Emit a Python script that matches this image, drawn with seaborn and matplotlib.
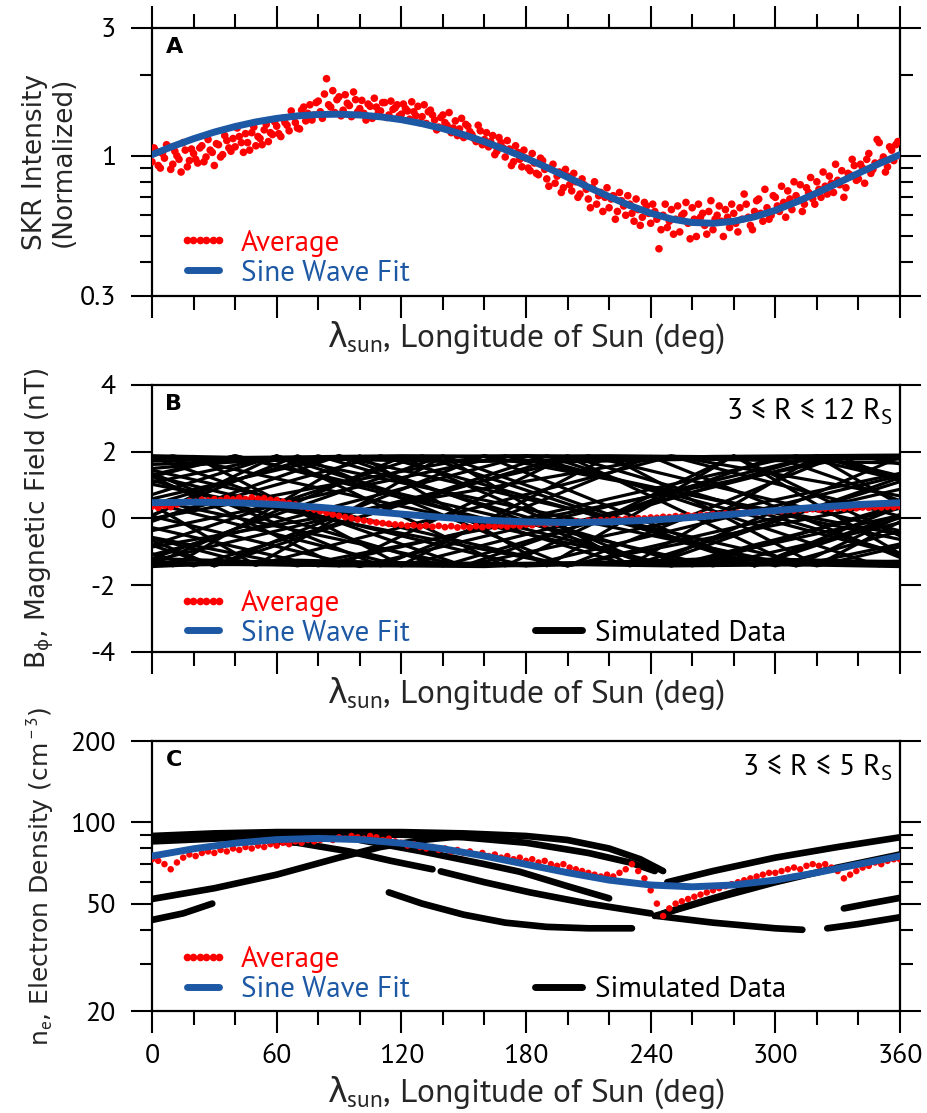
import numpy as np
import pandas as pd
import matplotlib
matplotlib.use("Agg")
import matplotlib.pyplot as plt
import seaborn as sns
from matplotlib import font_manager
from matplotlib.lines import Line2D
from matplotlib.ticker import MultipleLocator, FixedLocator, FixedFormatter, NullFormatter

# ---------------- data ----------------
avg_a_lon_even = np.arange(0, 361, 2)
avg_a_even = [0.95, 1.04, 0.90, 0.98, 1.08, 0.93, 1.00, 0.87, 1.05, 0.96,
              1.02, 0.94, 1.09, 0.99, 1.05, 0.92, 1.10, 1.01, 1.14, 1.04,
              1.08, 1.18, 1.03, 1.12, 1.22, 1.09, 1.16, 1.25, 1.13, 1.20,
              1.29, 1.18, 1.33, 1.24, 1.40, 1.27, 1.48, 1.35, 1.55, 1.42,
              1.60, 1.38, 1.94, 1.52, 1.45, 1.66, 1.48, 1.57, 1.40, 1.62,
              1.50, 1.44, 1.56, 1.38, 1.52, 1.47, 1.58, 1.42, 1.49, 1.55,
              1.43, 1.50, 1.37, 1.46, 1.53, 1.40, 1.32, 1.48, 1.36, 1.28,
              1.42, 1.30, 1.22, 1.35, 1.26, 1.17, 1.29, 1.20, 1.13, 1.24,
              1.15, 1.08, 1.19, 1.04, 1.12, 0.99, 1.06, 0.95, 1.03, 0.91,
              0.98, 0.88, 0.94, 0.85, 0.96, 0.82, 0.90, 0.79, 0.87, 0.76,
              0.84, 0.74, 0.80, 0.72, 0.78, 0.69, 0.76, 0.66, 0.73, 0.70,
              0.64, 0.71, 0.62, 0.68, 0.60, 0.66, 0.57, 0.63, 0.59, 0.65,
              0.56, 0.62, 0.45, 0.60, 0.54, 0.63, 0.58, 0.52, 0.61, 0.56,
              0.64, 0.50, 0.59, 0.55, 0.62, 0.53, 0.60, 0.57, 0.63, 0.54,
              0.61, 0.52, 0.58, 0.66, 0.55, 0.62, 0.69, 0.57, 0.64, 0.60,
              0.70, 0.62, 0.67, 0.74, 0.63, 0.71, 0.78, 0.66, 0.73, 0.69,
              0.80, 0.70, 0.77, 0.84, 0.73, 0.81, 0.88, 0.76, 0.85, 0.92,
              0.82, 0.90, 0.97, 0.86, 0.94, 1.12, 0.99, 0.91, 1.05, 1.10,
              1.00]
avg_a_lon_odd = np.arange(1, 360, 2)
avg_a_odd = [1.07, 0.92, 1.02, 1.10, 0.89, 1.04, 0.97, 1.12, 0.91, 1.06,
             0.97, 1.07, 0.95, 1.15, 1.03, 1.11, 0.99, 1.19, 1.07, 1.16,
             1.27, 1.12, 1.21, 1.05, 1.28, 1.18, 1.10, 1.31, 1.22, 1.34,
             1.21, 1.38, 1.30, 1.47, 1.33, 1.26, 1.52, 1.44, 1.36, 1.58,
             1.46, 1.70, 1.55, 1.75, 1.62, 1.41, 1.69, 1.54, 1.73, 1.46,
             1.61, 1.36, 1.53, 1.64, 1.45, 1.58, 1.39, 1.60, 1.51, 1.41,
             1.56, 1.47, 1.59, 1.41, 1.33, 1.55, 1.46, 1.42, 1.25, 1.39,
             1.33, 1.45, 1.27, 1.19, 1.38, 1.31, 1.23, 1.16, 1.30, 1.10,
             1.22, 1.13, 1.01, 1.17, 1.07, 1.14, 0.92, 1.09, 0.97, 1.05,
             0.90, 1.02, 0.86, 0.98, 0.89, 0.77, 0.93, 0.84, 0.73, 0.89,
             0.78, 0.86, 0.70, 0.82, 0.75, 0.64, 0.80, 0.71, 0.62, 0.76,
             0.69, 0.58, 0.73, 0.65, 0.71, 0.61, 0.69, 0.55, 0.67, 0.61,
             0.66, 0.58, 0.53, 0.66, 0.57, 0.51, 0.65, 0.60, 0.67, 0.49,
             0.58, 0.66, 0.61, 0.51, 0.68, 0.58, 0.65, 0.50, 0.59, 0.66,
             0.56, 0.64, 0.72, 0.59, 0.53, 0.68, 0.61, 0.75, 0.58, 0.71,
             0.65, 0.77, 0.59, 0.69, 0.80, 0.68, 0.62, 0.76, 0.83, 0.66,
             0.75, 0.87, 0.72, 0.79, 0.93, 0.78, 0.70, 0.86, 0.97, 0.81,
             0.93, 0.79, 1.02, 0.89, 1.15, 0.95, 0.87, 1.08, 0.96, 1.13]
fit_a_lon = np.arange(0, 361, 10)
fit_a = [1.010, 1.085, 1.158, 1.226, 1.286, 1.338, 1.379, 1.409, 1.426, 1.430,
         1.420, 1.398, 1.364, 1.318, 1.263, 1.199, 1.129, 1.055, 0.980, 0.905,
         0.832, 0.764, 0.704, 0.652, 0.611, 0.581, 0.564, 0.560, 0.570, 0.592,
         0.626, 0.672, 0.727, 0.791, 0.861, 0.935, 1.010]

avg_b_lon = np.arange(0, 361, 3)
avg_b = [0.36, 0.32, 0.38, 0.34, 0.42, 0.48, 0.52, 0.50, 0.56, 0.54,
         0.58, 0.55, 0.61, 0.57, 0.62, 0.58, 0.63, 0.59, 0.61, 0.56,
         0.55, 0.50, 0.46, 0.42, 0.36, 0.31, 0.27, 0.22, 0.17, 0.12,
         0.08, 0.04, 0.01, -0.03, -0.06, -0.09, -0.12, -0.14, -0.16, -0.18,
         -0.19, -0.22, -0.20, -0.24, -0.21, -0.25, -0.22, -0.26, -0.23, -0.27,
         -0.24, -0.27, -0.23, -0.26, -0.22, -0.25, -0.21, -0.24, -0.20, -0.22,
         -0.18, -0.20, -0.15, -0.17, -0.13, -0.15, -0.11, -0.12, -0.09, -0.10,
         -0.07, -0.08, -0.05, -0.06, -0.03, -0.04, -0.01, -0.02, 0.01, 0.00,
         0.03, 0.02, 0.05, 0.04, 0.07, 0.06, 0.09, 0.08, 0.11, 0.10,
         0.13, 0.12, 0.15, 0.14, 0.17, 0.16, 0.19, 0.18, 0.21, 0.20,
         0.23, 0.22, 0.25, 0.24, 0.27, 0.26, 0.28, 0.27, 0.30, 0.29,
         0.31, 0.30, 0.32, 0.31, 0.33, 0.32, 0.34, 0.33, 0.35, 0.34,
         0.36]
fit_bc_lon = np.arange(0, 361, 20)
fit_b = [0.472, 0.490, 0.472, 0.419, 0.338, 0.238, 0.132, 0.033, -0.049, -0.102,
         -0.120, -0.102, -0.049, 0.033, 0.132, 0.238, 0.338, 0.419, 0.472]

avg_c_lon = np.arange(0, 361, 3)
avg_c = [73, 72, 70, 67, 71, 74, 76, 75, 77, 78,
         77, 79, 78, 80, 79, 81, 80, 82, 81, 83,
         82, 84, 83, 85, 84, 86, 85, 86, 87, 86,
         88, 87, 89, 88, 87, 89, 88, 86, 87, 85,
         84, 82, 83, 81, 80, 81, 79, 80, 78, 79,
         77, 78, 76, 77, 75, 76, 74, 75, 73, 74,
         72, 73, 71, 72, 70, 69, 70, 68, 67, 66,
         65, 64, 63, 64, 63, 65, 67, 70, 66, 62,
         56, 50, 45, 48, 50, 51, 52, 53, 54, 55,
         56, 57, 58, 59, 60, 61, 62, 63, 64, 65,
         65, 66, 67, 68, 67, 69, 70, 69, 70, 68,
         66, 62, 64, 66, 68, 69, 71, 70, 72, 73,
         73]
fit_c = [75.0, 79.8, 83.7, 86.3, 87.2, 86.3, 83.7, 79.8, 75.0, 69.9,
         65.1, 61.1, 58.6, 57.7, 58.6, 61.1, 65.1, 69.9, 75.0]

sim_b_lon = [
    [-40, 140, 320, 500], [-160, 20, 200, 380], [-100, 80, 260, 440],
    [-150, 50, 250, 450], [-120, 100, 320, 540], [0, 150, 300, 450],
    [-60, 90, 240, 390], [-100, 30, 160, 290, 420], [-20, 110, 240, 370],
    [-50, 60, 170, 280, 390], [-80, 170, 420], [-190, 60, 310, 560],
    [-70, 200, 470], [-50, 250, 550], [-30, 130, 290, 450],
    [-110, 60, 230, 400], [0, 120, 240, 360], [-20, 180, 380],
    [-190, 40, 270, 500], [-90, 120, 330], [-30, 200, 430],
    [-140, 90, 320, 550], [10, 100, 190, 280, 370], [-40, 50, 140, 230, 320, 410],
    [-200, 70, 340, 610], [-120, 160, 440], [-10, 210, 430],
    [-170, 40, 250, 460],
    [-60, 70, 200, 330, 460], [-130, 30, 190, 350], [-20, 90, 200, 310, 420],
    [-80, 110, 300, 490], [-230, 10, 250, 490], [-150, 80, 310, 540],
    [-40, 180, 400], [20, 120, 220, 320, 420], [-100, 150, 400],
    [-10, 140, 290, 440],
    [0, 120, 240, 360], [0, 100, 220, 360], [0, 80, 180, 280, 360],
    [0, 150, 270, 360], [0, 60, 200, 330, 360],
    [0, 130, 250, 360], [0, 90, 200, 360], [0, 110, 230, 360],
    [0, 70, 180, 300, 360], [0, 160, 280, 360]]
sim_b_val = [
    [1.88, -1.42, 1.88, -1.42], [1.88, -1.42, 1.88, -1.42], [-1.42, 1.88, -1.42, 1.88],
    [1.86, -1.40, 1.86, -1.40], [1.88, -1.44, 1.88, -1.44], [1.84, -1.42, 1.84, -1.42],
    [-1.40, 1.88, -1.40, 1.88], [1.88, -1.42, 1.88, -1.42, 1.88], [1.86, -1.42, 1.86, -1.42],
    [-1.42, 1.88, -1.42, 1.88, -1.42], [-1.42, 1.88, -1.42], [-1.42, 1.86, -1.42, 1.86],
    [1.88, -1.42, 1.88], [-1.40, 1.88, -1.40], [-1.42, 1.88, -1.42, 1.88],
    [-1.42, 1.88, -1.42, 1.88], [-1.38, 1.84, -1.38, 1.84], [-1.42, 1.88, -1.42],
    [-1.42, 1.88, -1.42, 1.88], [1.88, -1.42, 1.88], [1.88, -1.42, 1.88],
    [-1.42, 1.88, -1.42, 1.88], [-1.42, 1.88, -1.42, 1.88, -1.42], [1.86, -1.40, 1.86, -1.40, 1.86, -1.40],
    [1.88, -1.42, 1.88, -1.42], [-1.42, 1.88, -1.42], [-1.42, 1.88, -1.42],
    [-1.42, 1.88, -1.42, 1.88],
    [-1.42, 1.88, -1.42, 1.88, -1.42], [1.88, -1.42, 1.88, -1.42], [1.86, -1.42, 1.86, -1.42, 1.86],
    [-1.42, 1.88, -1.42, 1.88], [-1.42, 1.88, -1.42, 1.88], [1.88, -1.42, 1.88, -1.42],
    [1.88, -1.42, 1.88], [1.86, -1.40, 1.86, -1.40, 1.86], [1.88, -1.42, 1.88],
    [-1.42, 1.88, -1.42, 1.88],
    [1.80, 1.88, 1.84, 1.78], [1.72, 1.85, 1.88, 1.80], [1.62, 1.78, 1.88, 1.76, 1.66],
    [1.88, 1.70, 1.86, 1.90], [1.50, 1.80, 1.70, 1.86, 1.82],
    [-1.40, -1.32, -1.42, -1.36], [-1.30, -1.42, -1.38, -1.28], [-1.20, -1.40, -1.30, -1.44],
    [-1.44, -1.25, -1.42, -1.22, -1.30], [-1.36, -1.44, -1.18, -1.40]]

sim_c_lon = [
    [0, 30, 60, 90, 120, 150, 180, 200, 220, 235, 246],
    [0, 30, 60, 90, 120, 150, 180, 210, 230, 242],
    [0, 30, 60, 90, 110, 130, 150],
    [333, 345, 360],
    [40, 70, 95, 115, 135],
    [100, 130, 160, 177, 200, 220],
    [139, 160, 182, 210, 240],
    [0, 15, 29],
    [114, 130, 150, 170, 190, 210, 231],
    [248, 270, 300, 330, 360],
    [242, 270, 300, 330, 360],
    [243, 270, 300, 313],
    [325, 340, 360],
    [246, 265, 290, 310]]
sim_c_val = [
    [89, 91, 92, 92, 92, 91, 89, 86, 80, 73, 66],
    [85, 87, 89, 90, 90, 88, 84, 77, 71, 66],
    [52, 57, 64, 74, 81, 86, 89],
    [48, 50, 52.5],
    [87, 84, 78, 72, 67],
    [86, 78, 70, 65.6, 58, 52.3],
    [65.8, 60, 55, 50, 46],
    [43.5, 46, 50],
    [55, 50, 45.5, 42.5, 41, 40.5, 40.5],
    [60, 66, 74, 81, 88],
    [45, 52, 60, 68, 76],
    [45, 42.5, 40.5, 40],
    [40.5, 42, 44.5],
    [46, 51, 58, 63]]

x_major = [0, 60, 120, 180, 240, 300, 360]
x_labels = ["0", "60", "120", "180", "240", "300", "360"]
a_yticks = [0.3, 1, 3]
a_ylabels = ["0.3", "1", "3"]
a_yminor = [0.4, 0.5, 0.6, 0.7, 0.8, 0.9, 2]
b_yticks = [-4, -2, 0, 2, 4]
b_ylabels = ["-4", "-2", "0", "2", "4"]
c_yticks = [20, 50, 100, 200]
c_ylabels = ["20", "50", "100", "200"]
c_yminor = [30, 40, 60, 70, 80, 90]

# ---------------- style ----------------
sns.set_theme(style="ticks")
fl = font_manager.fontManager.ttflist
stretch_of = {}
for f in fl:
    stretch_of.setdefault(f.name, f.stretch)
MAIN, STRETCH = "DejaVu Sans", "normal"
for cand in ["PT Sans", "Asap", "Open Sans", "Noto Sans"]:
    if cand in stretch_of:
        MAIN, STRETCH = cand, stretch_of[cand]
        break
plt.rcParams["font.family"] = [MAIN, "DejaVu Sans"]
plt.rcParams["font.stretch"] = STRETCH
plt.rcParams["mathtext.fontset"] = "custom"
plt.rcParams["mathtext.rm"] = MAIN
plt.rcParams["mathtext.it"] = "DejaVu Sans"
plt.rcParams["mathtext.bf"] = MAIN + ":bold"
plt.rcParams["axes.edgecolor"] = "black"
plt.rcParams["xtick.color"] = "black"
plt.rcParams["ytick.color"] = "black"
plt.rcParams["text.color"] = "black"

BLUE = "#1c58a4"
RED = "#ff0000"

fig = plt.figure(figsize=(9.28, 11.13), dpi=100)
axA = fig.add_axes([0.1638, 0.7341, 0.806, 0.2408])
axB = fig.add_axes([0.1638, 0.4142, 0.806, 0.2399])
axC = fig.add_axes([0.1638, 0.0916, 0.806, 0.2426])
axA.set_yscale("log")
axC.set_yscale("log")


def tracks_df(lons, vals):
    rows = []
    for i, (xs, ys) in enumerate(zip(lons, vals)):
        for x, y in zip(xs, ys):
            rows.append((i, x, y))
    return pd.DataFrame(rows, columns=["track", "lon", "val"])


# Panel A
sns.scatterplot(x=avg_a_lon_even, y=avg_a_even, color=RED, s=30, edgecolor="none", linewidth=0, ax=axA, zorder=3)
sns.scatterplot(x=avg_a_lon_odd, y=avg_a_odd, color=RED, s=30, edgecolor="none", linewidth=0, ax=axA, zorder=3)
sns.lineplot(x=fit_a_lon, y=fit_a, color=BLUE, lw=5, ax=axA, zorder=4)

# Panel B
sns.lineplot(data=tracks_df(sim_b_lon, sim_b_val), x="lon", y="val", units="track", estimator=None,
             color="black", lw=2.3, ax=axB, legend=False, zorder=2)
sns.scatterplot(x=avg_b_lon, y=avg_b, color=RED, s=24, edgecolor="none", linewidth=0, ax=axB, zorder=3)
sns.lineplot(x=fit_bc_lon, y=fit_b, color=BLUE, lw=5, ax=axB, zorder=4)

# Panel C
sns.lineplot(data=tracks_df(sim_c_lon, sim_c_val), x="lon", y="val", units="track", estimator=None,
             color="black", lw=4.8, ax=axC, legend=False, zorder=2, solid_capstyle="round")
sns.scatterplot(x=avg_c_lon, y=avg_c, color=RED, s=22, edgecolor="none", linewidth=0, ax=axC, zorder=3)
sns.lineplot(x=fit_bc_lon, y=fit_c, color=BLUE, lw=5, ax=axC, zorder=4)

axA.set_ylim(0.3, 3)
axB.set_ylim(-4, 4)
axC.set_ylim(20, 200)

xlab = r"$\lambda_{\rm sun}$, Longitude of Sun (deg)"
for ax in (axA, axB, axC):
    ax.set_xlim(0, 360)
    ax.xaxis.set_major_locator(FixedLocator(x_major))
    ax.xaxis.set_minor_locator(MultipleLocator(20))
    ax.tick_params(axis="x", which="major", direction="out", length=16, width=1.5,
                   bottom=True, top=(ax is axA), labelsize=20, pad=8)
    ax.tick_params(axis="x", which="minor", direction="out", length=10, width=1.5,
                   bottom=True, top=(ax is axA))
    ax.tick_params(axis="y", which="major", direction="out", length=15, width=1.5,
                   left=True, right=True, labelsize=20, pad=11)
    ax.tick_params(axis="y", which="minor", direction="out", length=9, width=1.5,
                   left=True, right=True)
    for sp in ax.spines.values():
        sp.set_linewidth(1.6)
        sp.set_color("black")
    ax.set_xlabel(xlab, fontsize=24)
    if ax is axC:
        ax.set_xticklabels(x_labels)
        ax.xaxis.labelpad = 4
    else:
        ax.tick_params(axis="x", labelbottom=False)
        ax.xaxis.labelpad = 1

axA.yaxis.set_major_locator(FixedLocator(a_yticks))
axA.yaxis.set_major_formatter(FixedFormatter(a_ylabels))
axA.yaxis.set_minor_locator(FixedLocator(a_yminor))
axA.yaxis.set_minor_formatter(NullFormatter())
axB.yaxis.set_major_locator(FixedLocator(b_yticks))
axB.yaxis.set_major_formatter(FixedFormatter(b_ylabels))
axB.yaxis.set_minor_locator(FixedLocator([]))
axC.yaxis.set_major_locator(FixedLocator(c_yticks))
axC.yaxis.set_major_formatter(FixedFormatter(c_ylabels))
axC.yaxis.set_minor_locator(FixedLocator(c_yminor))
axC.yaxis.set_minor_formatter(NullFormatter())

ylab_kw = dict(fontfamily="DejaVu Sans", fontstretch="normal")
axA.set_ylabel("SKR Intensity\n(Normalized)", linespacing=1.15, fontsize=19, **ylab_kw)
axB.set_ylabel(r"B$_{\phi}$, Magnetic Field (nT)", fontsize=19, **ylab_kw)
axC.set_ylabel(r"n$_{\rm e}$, Electron Density (cm$^{\rm -3}$)", fontsize=18, **ylab_kw)
for ax, xc in ((axA, -0.137), (axB, -0.150), (axC, -0.150)):
    ax.yaxis.label.set_va("center")
    ax.yaxis.set_label_coords(xc, 0.5)

for ax, letter in ((axA, "A"), (axB, "B"), (axC, "C")):
    ax.text(0.018, 0.965, letter, transform=ax.transAxes, fontsize=16, fontweight="bold",
            va="top", ha="left", fontfamily="DejaVu Sans", fontstretch="normal")

axB.text(0.99, 0.955, r"3 ≤ R ≤ 12 R$_{\rm S}$", transform=axB.transAxes, fontsize=21.5,
         ha="right", va="top")
axC.text(0.99, 0.955, r"3 ≤ R ≤ 5 R$_{\rm S}$", transform=axC.transAxes, fontsize=21.5,
         ha="right", va="top")


def add_legends(ax, y0, sim):
    h_avg = Line2D([], [], ls="none", marker="o", ms=5.5, color=RED, mec="none")
    h_fit = Line2D([], [], color=BLUE, lw=5)
    leg = ax.legend([h_avg, h_fit], ["Average", "Sine Wave Fit"], loc="lower left",
                    bbox_to_anchor=(0.035, y0), numpoints=6, frameon=False, fontsize=21,
                    handlelength=1.7, handletextpad=0.45, labelspacing=0.1,
                    borderpad=0, borderaxespad=0, labelcolor=[RED, BLUE])
    if sim:
        ax.add_artist(leg)
        h_sim = Line2D([], [], color="black", lw=5)
        ax.legend([h_sim], ["Simulated Data"], loc="lower left", bbox_to_anchor=(0.512, y0),
                  frameon=False, fontsize=21, handlelength=1.6, handletextpad=0.45,
                  borderpad=0, borderaxespad=0)


add_legends(axA, 0.035, False)
add_legends(axB, 0.02, True)
add_legends(axC, 0.03, True)

fig.savefig("out.png", dpi=100)
